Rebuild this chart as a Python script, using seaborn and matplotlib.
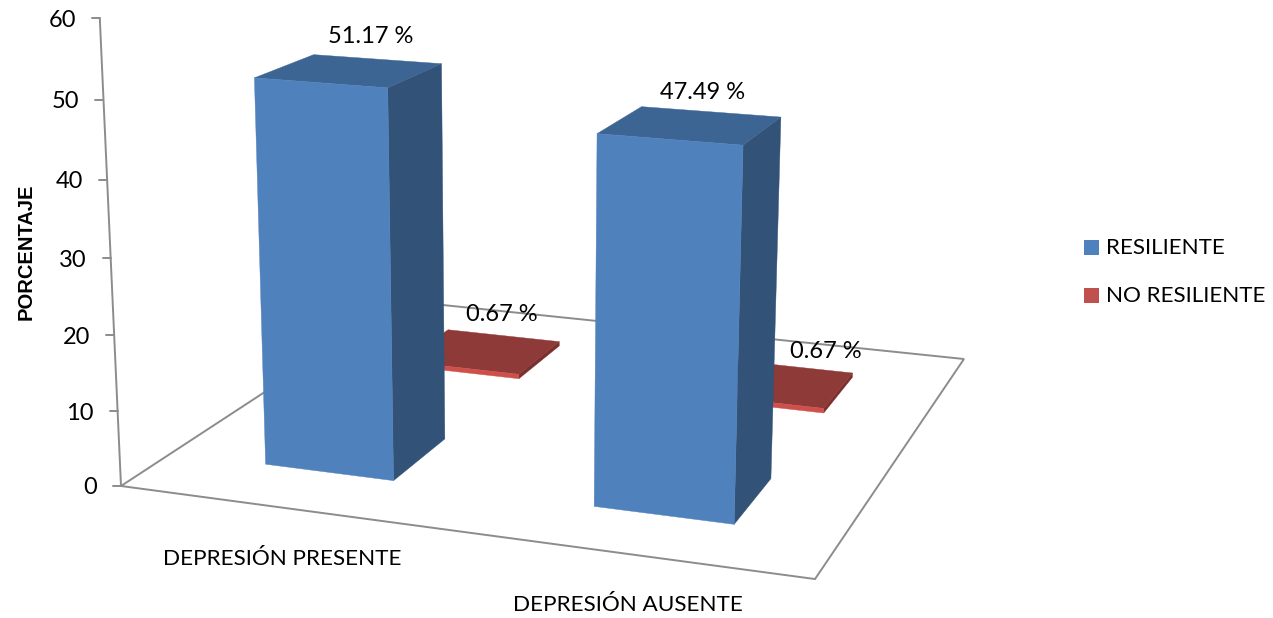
import numpy as np
import pandas as pd
import seaborn as sns
import matplotlib.pyplot as plt
from matplotlib.patches import Polygon, Rectangle

# Chart data
categories = ["DEPRESIÓN PRESENTE", "DEPRESIÓN AUSENTE"]
series_names = ["RESILIENTE", "NO RESILIENTE"]
resiliente = [51.17, 47.49]
no_resiliente = [0.67, 0.67]
value_ticks = [0, 10, 20, 30, 40, 50, 60]

df = pd.DataFrame({
    "categoria": categories * 2,
    "serie": [series_names[0]] * 2 + [series_names[1]] * 2,
    "valor": resiliente + no_resiliente,
})

sns.set_theme(style="white")
plt.rcParams["font.family"] = ["Lato", "DejaVu Sans"]

W, H = 1273, 618
fig = plt.figure(figsize=(W / 100, H / 100), dpi=100)
ax = fig.add_axes([0, 0, 1, 1])
ax.set_xlim(0, W)
ax.set_ylim(H, 0)
ax.axis("off")

# Perspective camera: u runs along the categories, v along the series, z is the value
FLOOR = np.array([[620.9, 389.3, 121.0],
                  [41.1, -105.8, 486.0],
                  [-0.0897, 0.2632, 1.0]])
VERTICAL = -0.000831 * np.array([525.0, 9400.0, 1.0])


def project(u, v, z=0.0):
    p = FLOOR @ np.array([u, v, 1.0]) + z * VERTICAL
    return p[0] / p[2], p[1] / p[2]


# Excel-style slots along each floor direction
BAR_HALF_U = 0.10
BAR_HALF_V = 0.095
u_centres = {c: 0.25 + 0.5 * i for i, c in enumerate(categories)}
v_centres = {s: 0.245 + 0.5 * i for i, s in enumerate(series_names)}

GRID = "#8c8c8c"
shades = {
    series_names[0]: {"front": "#4F81BD", "top": "#3D6593", "side": "#325277"},
    series_names[1]: {"front": "#CF4F4B", "top": "#8E3A38", "side": "#7A2F2D"},
}

# Floor outline and value axis
corners = [project(0, 0), project(1, 0), project(1, 1), project(0, 1)]
ax.add_patch(Polygon(corners, closed=True, fill=False, edgecolor=GRID, lw=1.4, zorder=1))
axis_line = np.array([project(0, 0, 0), project(0, 0, value_ticks[-1])])
sns.lineplot(x=axis_line[:, 0], y=axis_line[:, 1], color=GRID, lw=1.4, sort=False,
             estimator=None, ax=ax, zorder=1)

for t in value_ticks:
    x, y = project(0, 0, t)
    ax.plot([x - 8, x], [y, y], color=GRID, lw=1.4, zorder=1)
    ax.text(x - 24, y + 2, str(t), ha="right", va="center", fontsize=17, color="black")


def draw_bar(u0, u1, v0, v1, z, colours, order):
    faces = {
        "side": [project(u1, v0), project(u1, v1), project(u1, v1, z), project(u1, v0, z)],
        "top": [project(u0, v0, z), project(u1, v0, z), project(u1, v1, z), project(u0, v1, z)],
        "front": [project(u0, v0), project(u1, v0), project(u1, v0, z), project(u0, v0, z)],
    }
    for name, pts in faces.items():
        ax.add_patch(Polygon(pts, closed=True, facecolor=colours[name],
                             edgecolor=colours[name], lw=0.3, zorder=order))


# Rows further from the viewer are painted first
for serie in reversed(series_names):
    sub = df[df["serie"] == serie]
    for _, row in sub.iterrows():
        uc = u_centres[row["categoria"]]
        vc = v_centres[serie]
        draw_bar(uc - BAR_HALF_U, uc + BAR_HALF_U, vc - BAR_HALF_V, vc + BAR_HALF_V,
                 row["valor"], shades[serie], 3 if serie == series_names[0] else 2)

# Value labels, nudged from the centre of each bar's top face
label_nudges = [(21, -34), (12, -33), (19, -37), (49, -32)]
for (_, row), (dx, dy) in zip(df.iterrows(), label_nudges):
    uc = u_centres[row["categoria"]]
    vc = v_centres[row["serie"]]
    x, y = project(uc, vc, row["valor"])
    ax.text(x + dx, y + dy, f"{row['valor']:.2f} %", ha="center", va="center",
            fontsize=17, color="black", zorder=5)

# Category labels under the front edge
ax.text(282, 559, categories[0], ha="center", va="center", fontsize=16.2, color="black")
ax.text(628, 605, categories[1], ha="center", va="center", fontsize=16.2, color="black")

ax.text(26, 252, "PORCENTAJE", rotation=90, ha="center", va="center",
        fontsize=14.5, fontweight="bold", family="Liberation Sans", color="black")

# Legend
for serie, y, col in zip(series_names, [247, 295], ["#4F81BD", "#C0504D"]):
    ax.add_patch(Rectangle((1084, y - 7.5), 15, 15, facecolor=col, edgecolor="none"))
    ax.text(1106, y + 1, serie, ha="left", va="center", fontsize=16.1, color="black")

sns.despine(ax=ax, left=True, bottom=True)
fig.savefig("out.png", dpi=100, facecolor="white")
